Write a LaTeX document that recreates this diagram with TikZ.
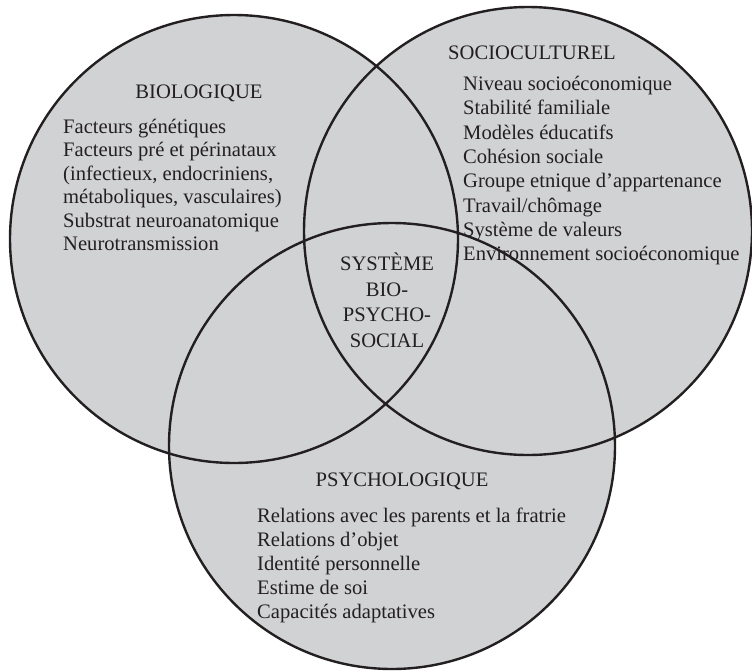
\documentclass[tikz,border=0pt]{standalone}
\usepackage{fontspec}
\setmainfont{Liberation Serif}
\definecolor{vennfill}{RGB}{209,210,212}
\definecolor{inkc}{RGB}{35,31,32}
\tikzset{
  ring/.style={draw=inkc, line width=2.4pt},
  ringfill/.style={fill=vennfill},
  lbl/.style={inner sep=0pt, text=inkc, font=\fontsize{20.6}{23.4}\selectfont},
  blist/.style={lbl, align=left, anchor=north west},
}
\begin{document}
\begin{tikzpicture}[x=1pt,y=-1pt]
\useasboundingbox (0,0) rectangle (752,670);
\coordinate (cb) at (234,239);
\coordinate (cs) at (528,231);
\coordinate (cp) at (392,446);
\fill[ringfill] (cb) circle (224);
\fill[ringfill] (cs) circle (224);
\fill[ringfill] (cp) circle (223);
\draw[ring] (cb) circle (224);
\draw[ring] (cs) circle (224);
\draw[ring] (cp) circle (223);

\node[lbl, anchor=base] (bio) at (199,98) {BIOLOGIQUE};
\node[blist] (biol) at (63,119) {Facteurs génétiques\\Facteurs pré et périnataux\\(infectieux, endocriniens,\\métaboliques, vasculaires)\\Substrat neuroanatomique\\Neurotransmission};

\node[lbl, anchor=base west] (soc) at (448,59) {SOCIOCULTUREL};
\node[blist, font=\fontsize{20.6}{24.3}\selectfont] (socl) at (463,76) {Niveau socioéconomique\\Stabilité familiale\\Modèles éducatifs\\Cohésion sociale\\Groupe etnique d’appartenance\\Travail/chômage\\Système de valeurs\\Environnement socioéconomique};

\node[lbl, align=center, anchor=north, font=\fontsize{20.6}{25.5}\selectfont] (sys) at (387,253) {SYSTÈME\\BIO-\\PSYCHO-\\SOCIAL};

\node[lbl, anchor=base] (psy) at (402,486) {PSYCHOLOGIQUE};
\node[blist, font=\fontsize{20.6}{24}\selectfont] (psyl) at (257,508) {Relations avec les parents et la fratrie\\Relations d’objet\\Identité personnelle\\Estime de soi\\Capacités adaptatives};
\end{tikzpicture}
\end{document}
